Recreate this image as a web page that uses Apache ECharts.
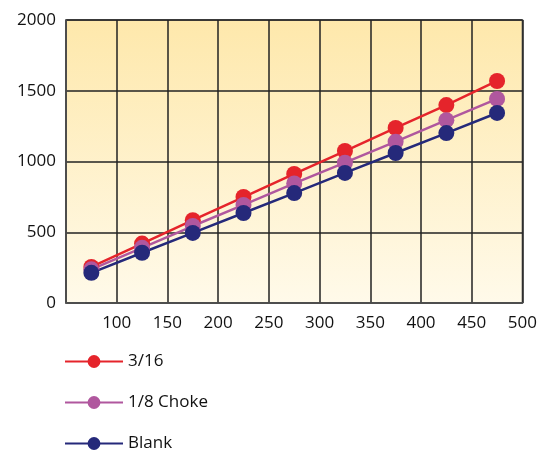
<!DOCTYPE html>
<html>
<head>
<meta charset="utf-8">
<script src="https://cdn.jsdelivr.net/npm/echarts@6/dist/echarts.min.js"></script>
<style>
  html, body { margin: 0; padding: 0; background: #fff; }
  #main { width: 540px; height: 454px; }
</style>
</head>
<body>
<div id="main"></div>
<script>
// 数据
var xValues = [75, 125, 175, 225, 275, 325, 375, 425, 475];
var red316 = [255, 420, 585, 749, 912, 1074, 1237, 1399, 1569];
var choke18 = [238, 390, 544, 693, 845, 992, 1140, 1292, 1442];
var blank = [213, 355, 495, 636, 777, 919, 1060, 1201, 1343];
var seriesNames = ['3/16', '1/8 Choke', 'Blank'];
var seriesColors = ['#e5242b', '#b0579e', '#25297a'];

function pairs(ys) {
    return xValues.map(function (x, i) { return [x, ys[i]]; });
}

var myChart = echarts.init(document.getElementById('main'));

var font = '"Open Sans", "Noto Sans", sans-serif';

function makeSeries(name, ys, color) {
    return {
        name: name,
        type: 'line',
        data: pairs(ys),
        symbol: 'circle',
        symbolSize: 16,
        itemStyle: { color: color },
        lineStyle: { color: color, width: 2.5 }
    };
}

var option = {
    animation: false,
    grid: {
        left: 66,
        right: 13,
        top: 20,
        bottom: 151,
        show: true,
        borderColor: '#555',
        borderWidth: 1.5,
        backgroundColor: new echarts.graphic.LinearGradient(0, 0, 0, 1, [
            { offset: 0, color: '#fee8ab' },
            { offset: 1, color: '#fffaea' }
        ])
    },
    legend: {
        orient: 'vertical',
        left: 59,
        top: 348,
        height: 120,
        itemWidth: 58,
        itemHeight: 16,
        itemGap: 24,
        data: seriesNames,
        textStyle: { fontSize: 17, color: '#111', fontFamily: font }
    },
    xAxis: {
        type: 'value',
        min: 50,
        max: 500,
        interval: 50,
        axisLine: { lineStyle: { color: '#555', width: 1.5 } },
        axisTick: { show: false },
        splitLine: { lineStyle: { color: '#222', width: 1.5 } },
        axisLabel: {
            fontSize: 17,
            color: '#111',
            fontFamily: font,
            margin: 12,
            formatter: function (v) { return v === 50 ? '' : String(v); }
        }
    },
    yAxis: {
        type: 'value',
        min: 0,
        max: 2000,
        interval: 500,
        axisLine: { show: true, lineStyle: { color: '#555', width: 1.5 } },
        axisTick: { show: false },
        splitLine: { lineStyle: { color: '#222', width: 1.5 } },
        axisLabel: {
            fontSize: 17,
            color: '#111',
            fontFamily: font,
            margin: 10,
            formatter: function (v) { return String(v); }
        }
    },
    series: [
        makeSeries(seriesNames[0], red316, seriesColors[0]),
        makeSeries(seriesNames[1], choke18, seriesColors[1]),
        makeSeries(seriesNames[2], blank, seriesColors[2])
    ]
};

myChart.setOption(option);
</script>
</body>
</html>
